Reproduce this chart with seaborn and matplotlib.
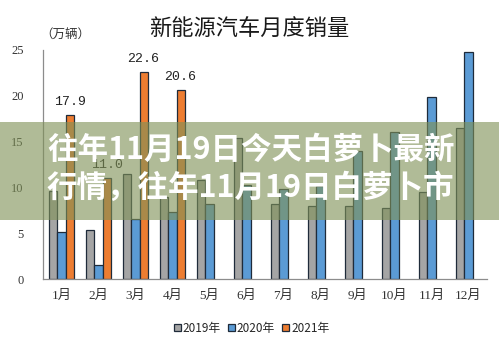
import pandas as pd
import seaborn as sns
import matplotlib.pyplot as plt
from matplotlib.patches import Rectangle

# Monthly new-energy vehicle sales (10k units)
months = ['1月', '2月', '3月', '4月', '5月', '6月', '7月', '8月', '9月', '10月', '11月', '12月']
years = ['2019年', '2020年', '2021年']
sales_2019 = [9.6, 5.3, 11.5, 8.9, 10.8, 15.4, 8.2, 8.0, 8.0, 7.8, 9.5, 16.5]
sales_2020 = [5.1, 1.5, 6.6, 7.3, 8.2, 10.3, 9.8, 10.2, 14.0, 16.1, 19.9, 24.8]
sales_2021 = [17.9, 11.0, 22.6, 20.6]
y_ticks = [0, 5, 10, 15, 20, 25]
colors = ['#A5A5A5', '#5B9BD5', '#ED7D31']

rows = []
for year, series in zip(years, [sales_2019, sales_2020, sales_2021]):
    for m, v in zip(months, series):
        rows.append((m, year, v))
df = pd.DataFrame(rows, columns=['月份', '年份', '销量'])

sns.set_theme(style='white')
plt.rcParams['font.family'] = ['Noto Sans CJK SC', 'DejaVu Sans']

fig = plt.figure(figsize=(4.99, 3.45), dpi=100)
ax = fig.add_axes([43 / 499, 1 - 279 / 345, 444 / 499, 229 / 345])

sns.barplot(data=df, x='月份', y='销量', hue='年份', order=months, hue_order=years,
            palette=colors, saturation=1, width=0.65, edgecolor='#1f2b3a',
            linewidth=0.9, errorbar=None, ax=ax)

# value labels on the 2021 bars
ax.bar_label(ax.containers[2], fmt='%.1f', padding=5,
             fontsize=9.5, family='Liberation Mono', color='#222222')

ax.set_xlim(-0.5, 11.5)
ax.set_ylim(0, 25)
ax.set_yticks(y_ticks)
ax.set_yticklabels([str(t) for t in y_ticks], family='Liberation Serif', fontsize=9, color='#333333')
for lbl in ax.get_xticklabels():
    lbl.set_family(['Liberation Serif', 'Noto Sans CJK SC'])
    lbl.set_fontsize(9.5)
    lbl.set_color('#333333')
ax.tick_params(axis='y', length=0, pad=14)
ax.tick_params(axis='x', length=0, pad=8)
ax.set_xlabel('')
ax.set_ylabel('')
for side in ['top', 'right']:
    ax.spines[side].set_visible(False)
for side in ['left', 'bottom']:
    ax.spines[side].set_color('#8c8c8c')
    ax.spines[side].set_linewidth(0.9)

handles, labels = ax.get_legend_handles_labels()
ax.legend(handles, labels, loc='center', bbox_to_anchor=(0.47, -0.215), ncol=3,
          frameon=False, handlelength=0.6, handleheight=0.6, handletextpad=0.15,
          columnspacing=0.6, prop={'family': ['Noto Sans CJK SC'], 'size': 8.5})

fig.text(0.5, 1 - 29 / 345, '新能源汽车月度销量', ha='center', va='center',
         fontsize=16, color='#1a1a1a')
fig.text(65 / 499, 1 - 34 / 345, '（万辆）', ha='center', va='center',
         fontsize=9, color='#333333')

# translucent headline banner across the chart
fig.add_artist(Rectangle((0, 1 - 220 / 345), 1, 98 / 345, transform=fig.transFigure,
                         facecolor=(128 / 255, 146 / 255, 88 / 255), alpha=0.62,
                         edgecolor='none', zorder=5))
fig.text(47 / 499, 1 - 150 / 345, '往年11月19日今天白萝卜最新', ha='left', va='center',
         fontsize=22, fontweight='bold', color='white', zorder=6)
fig.text(47 / 499, 1 - 188 / 345, '行情，往年11月19日白萝卜市', ha='left', va='center',
         fontsize=22, fontweight='bold', color='white', zorder=6)

fig.savefig('out.png', dpi=100)
